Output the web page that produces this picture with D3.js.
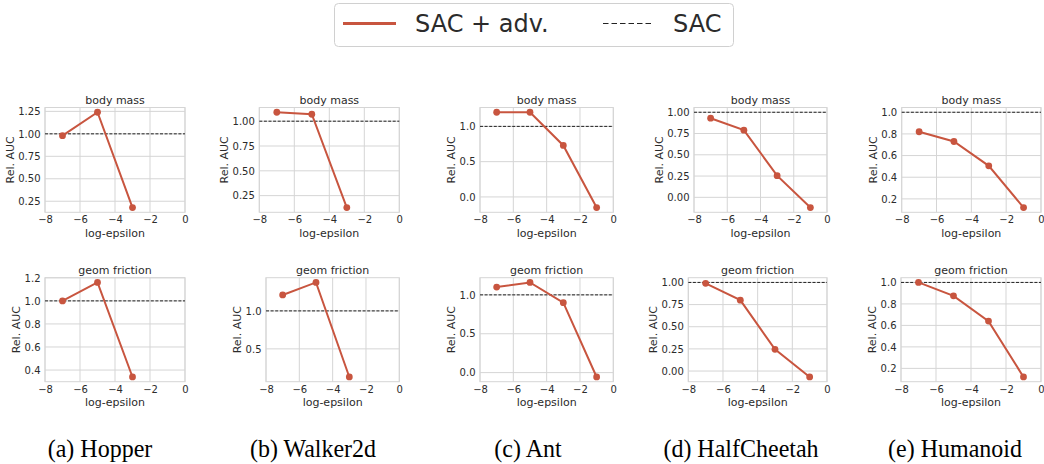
<!DOCTYPE html>
<html>
<head>
<meta charset="utf-8">
<script src="https://d3js.org/d3.v7.min.js"></script>
<style>
body { margin: 0; background: #fff; }
</style>
</head>
<body>
<script>
// data
var envs = ["Hopper", "Walker2d", "Ant", "HalfCheetah", "Humanoid"];
var captions = ["(a) Hopper", "(b) Walker2d", "(c) Ant", "(d) HalfCheetah", "(e) Humanoid"];
var params = ["body mass", "geom friction"];
var logEps = [-7, -5, -3, -1];
var baselineAUC = 1.0;

var hopperBodyMass   = [0.98, 1.24, 0.18];
var hopperFriction   = [1.00, 1.16, 0.34];
var walkerBodyMass   = [1.09, 1.07, 0.13];
var walkerFriction   = [1.21, 1.375, 0.13];
var antBodyMass      = [1.20, 1.20, 0.73, -0.15];
var antFriction      = [1.10, 1.16, 0.90, -0.056];
var cheetahBodyMass  = [0.93, 0.79, 0.255, -0.12];
var cheetahFriction  = [0.99, 0.80, 0.245, -0.067];
var humanoidBodyMass = [0.82, 0.73, 0.505, 0.12];
var humanoidFriction = [1.00, 0.875, 0.64, 0.12];

var xTicks = [-8, -6, -4, -2, 0];
var yTicksTop = [[0.25, 0.5, 0.75, 1.0, 1.25], [0.25, 0.5, 0.75, 1.0], [0, 0.5, 1.0], [0, 0.25, 0.5, 0.75, 1.0], [0.2, 0.4, 0.6, 0.8, 1.0]];
var yTicksBottom = [[0.4, 0.6, 0.8, 1.0, 1.2], [0.5, 1.0], [0, 0.5, 1.0], [0, 0.25, 0.5, 0.75, 1.0], [0.2, 0.4, 0.6, 0.8, 1.0]];
var yDecTop = [2, 2, 1, 2, 1];
var yDecBottom = [1, 1, 1, 2, 1];

var series = [
  [hopperBodyMass, hopperFriction],
  [walkerBodyMass, walkerFriction],
  [antBodyMass, antFriction],
  [cheetahBodyMass, cheetahFriction],
  [humanoidBodyMass, humanoidFriction]
];

// layout
var W = 1044, H = 464;
var red = "#c8553f";
var grid = "#d5d5d5";
var ink = "#2b2b2b";
var sans = "DejaVu Sans";
var colRight = [185, 399.3, 613.3, 827, 1041];
var leftTop = [45, 259.3, 480, 694, 901.7];
var leftBottom = [45, 266, 480, 688.3, 901];
var rowTop = [107.5, 277.7];
var rowBot = [212.3, 381.7];
var captionX = [100, 313, 528, 741, 955];

var svg = d3.select("body").append("svg").attr("width", W).attr("height", H);

function panel(ci, ri) {
  var vals = series[ci][ri];
  var L = ri == 0 ? leftTop[ci] : leftBottom[ci];
  var R = colRight[ci], T = rowTop[ri], B = rowBot[ri];
  var ticks = ri == 0 ? yTicksTop[ci] : yTicksBottom[ci];
  var dec = ri == 0 ? yDecTop[ci] : yDecBottom[ci];

  // matplotlib-like autoscale with 5% margin, axhline included
  var lo = Math.min(d3.min(vals), baselineAUC), hi = Math.max(d3.max(vals), baselineAUC);
  var pad = (hi - lo) * 0.05;
  var x = d3.scaleLinear().domain([-8, 0]).range([L, R]);
  var y = d3.scaleLinear().domain([lo - pad, hi + pad]).range([B, T]);

  var g = svg.append("g");

  // grid
  g.selectAll(".gx").data(xTicks).enter().append("line")
    .attr("x1", function(d){ return x(d); }).attr("x2", function(d){ return x(d); })
    .attr("y1", T).attr("y2", B).attr("stroke", grid).attr("stroke-width", 1);
  g.selectAll(".gy").data(ticks).enter().append("line")
    .attr("x1", L).attr("x2", R)
    .attr("y1", function(d){ return y(d); }).attr("y2", function(d){ return y(d); })
    .attr("stroke", grid).attr("stroke-width", 1);
  g.append("rect").attr("x", L).attr("y", T).attr("width", R - L).attr("height", B - T)
    .attr("fill", "none").attr("stroke", grid).attr("stroke-width", 1);

  // axes
  var xa = g.append("g").attr("transform", "translate(0," + B + ")")
    .call(d3.axisBottom(x).tickValues(xTicks).tickFormat(d3.format("d")).tickSize(0).tickPadding(4));
  var ya = g.append("g").attr("transform", "translate(" + L + ",0)")
    .call(d3.axisLeft(y).tickValues(ticks).tickFormat(d3.format("." + dec + "f")).tickSize(0).tickPadding(4.5));
  [xa, ya].forEach(function(a){
    a.select(".domain").remove();
    a.selectAll("text").attr("font-size", 10).attr("fill", ink).attr("font-family", sans);
  });

  // baseline
  g.append("line").attr("x1", L).attr("x2", R)
    .attr("y1", y(baselineAUC)).attr("y2", y(baselineAUC))
    .attr("stroke", "#222").attr("stroke-width", 1).attr("stroke-dasharray", "3,1.6");

  // series
  var pts = vals.map(function(v, i){ return [logEps[i], v]; });
  var line = d3.line().x(function(d){ return x(d[0]); }).y(function(d){ return y(d[1]); });
  g.append("path").attr("d", line(pts)).attr("fill", "none")
    .attr("stroke", red).attr("stroke-width", 2);
  g.selectAll(".pt").data(pts).enter().append("circle")
    .attr("cx", function(d){ return x(d[0]); }).attr("cy", function(d){ return y(d[1]); })
    .attr("r", 3.4).attr("fill", red);

  // labels
  g.append("text").attr("x", (L + R) / 2).attr("y", T - 4)
    .attr("text-anchor", "middle").attr("font-family", sans).attr("font-size", 11).attr("fill", ink).text(params[ri]);
  g.append("text").attr("x", (L + R) / 2).attr("y", B + 24.5)
    .attr("text-anchor", "middle").attr("font-family", sans).attr("font-size", 11).attr("fill", ink).text("log-epsilon");
  var bb = ya.node().getBBox();
  g.append("text")
    .attr("transform", "translate(" + (L + bb.x - 4.5) + "," + ((T + B) / 2) + ") rotate(-90)")
    .attr("text-anchor", "middle").attr("font-family", sans).attr("font-size", 11).attr("fill", ink).text("Rel. AUC");
}

envs.forEach(function(e, ci){ panel(ci, 0); panel(ci, 1); });

// captions (serif, slightly tall like the scanned figure)
svg.selectAll(".cap").data(captions).enter().append("text")
  .attr("transform", function(d, i){ return "translate(" + captionX[i] + ",457) scale(1,1.08)"; })
  .attr("text-anchor", "middle").attr("font-family", "Liberation Serif")
  .attr("font-size", 24).attr("fill", "#000").text(function(d){ return d; });

// legend
var lg = svg.append("g");
lg.append("rect").attr("x", 334.5).attr("y", 3.5).attr("width", 399).attr("height", 43)
  .attr("rx", 4).attr("fill", "#fff").attr("stroke", "#d0d0d0").attr("stroke-width", 1);
lg.append("line").attr("x1", 343).attr("x2", 396).attr("y1", 23.5).attr("y2", 23.5)
  .attr("stroke", red).attr("stroke-width", 3);
lg.append("text").attr("x", 415).attr("y", 32).attr("font-family", sans).attr("font-size", 24).attr("fill", ink).text("SAC + adv.");
lg.append("line").attr("x1", 603).attr("x2", 654).attr("y1", 23.5).attr("y2", 23.5)
  .attr("stroke", "#222").attr("stroke-width", 1.2).attr("stroke-dasharray", "5.5,3");
lg.append("text").attr("x", 673).attr("y", 32).attr("font-family", sans).attr("font-size", 24).attr("fill", ink).text("SAC");
</script>
</body>
</html>
